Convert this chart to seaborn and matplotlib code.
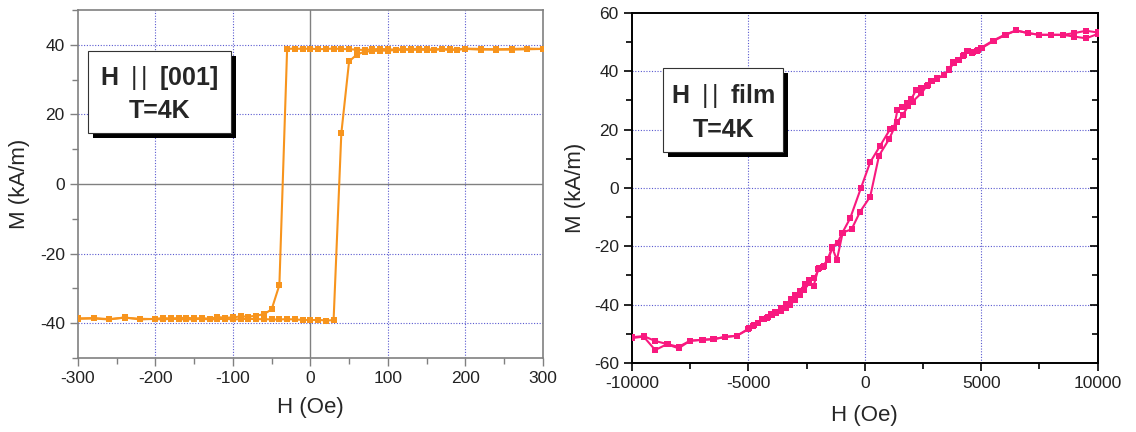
import numpy as np
import pandas as pd
import matplotlib
matplotlib.use("Agg")
import matplotlib.pyplot as plt
from matplotlib.patches import Rectangle
from matplotlib.ticker import MultipleLocator
import seaborn as sns

# left panel: H || [001], T=4K  (H in Oe, M in kA/m)
left_h_down = [300, 280, 260, 240, 220, 200, 190, 180, 170, 160, 150, 140, 130, 120, 110,
               100, 90, 80, 70, 60, 50, 40, 30, 20, 10, 0, -10, -20, -30,
               -40, -50, -60, -70, -80, -90, -100, -110, -120, -130, -140, -150, -160,
               -170, -180, -190, -200, -220, -240, -260, -280, -300]
left_m_down = [38.8, 38.9, 38.8, 38.7, 38.8, 38.9, 38.6, 38.7, 38.8, 38.6, 38.7, 38.9, 38.7,
               38.8, 38.6, 38.7, 38.8, 38.7, 38.5, 38.6, 38.7, 38.8, 38.9, 38.8, 38.7, 38.9,
               38.8, 38.9, 38.8,
               -29.0, -36.0, -37.4, -37.8, -38.1, -38.0, -38.3, -38.4, -38.2, -38.7, -38.5,
               -38.6, -38.4, -38.5, -38.6, -38.5, -38.7, -38.9, -38.3, -38.9, -38.6, -38.7]
left_h_up = [-300, -280, -260, -240, -220, -200, -190, -180, -170, -160, -150, -140, -130,
             -120, -110, -100, -90, -80, -70, -60, -50, -40, -30, -20, -10, 0, 10, 20, 30,
             40, 50, 60, 70, 80, 90, 100, 110, 120, 130, 140, 150, 160, 170, 180, 190, 200,
             220, 240, 260, 280, 300]
left_m_up = [-38.6, -38.5, -38.8, -38.4, -38.7, -38.8, -38.9, -38.7, -38.8, -38.9, -38.8,
             -38.7, -38.9, -38.8, -38.7, -38.9, -38.8, -38.7, -38.8, -38.8, -38.9, -38.9,
             -38.8, -38.9, -39.0, -39.1, -39.0, -39.2, -39.1,
             14.6, 35.2, 37.2, 38.0, 38.2, 38.3, 38.3, 38.5, 38.6, 38.5, 38.6, 38.5, 38.6,
             38.7, 38.5, 38.6, 38.8, 38.6, 38.6, 38.6, 38.7, 38.8]

# right panel: H || film, T=4K
right_h_down = [10000, 9500, 9000, 8500, 8000, 7500, 7000, 6500, 6000, 5500,
                5000, 4800, 4600, 4400, 4200, 4000, 3800, 3600, 3400, 3100,
                2900, 2700, 2400, 2200, 2000, 1800, 1600, 1400, 1250, 1090,
                660, 230, -170, -630, -960, -1170, -1390, -1570, -1770, -1960,
                -2170, -2390, -2560, -2780, -2990, -3170, -3390, -3600, -3860, -4030,
                -4170, -4350, -4580, -4780, -4960, -5490, -5990, -6490, -6960, -7500,
                -8000, -8460, -9000, -9500, -10000]
right_m_down = [53.3, 53.9, 53.1, 52.5, 52.5, 52.5, 53.1, 54.0, 52.5, 50.5,
                48.1, 47.1, 46.4, 46.8, 45.4, 43.9, 43.1, 40.7, 38.8, 37.6,
                36.8, 35.3, 34.2, 33.6, 30.5, 29.0, 27.9, 26.8, 20.5, 20.2,
                14.5, 8.8, -0.1, -10.4, -15.3, -18.8, -20.1, -24.7, -26.8, -27.5,
                -31.0, -31.6, -32.9, -35.2, -36.7, -38.2, -39.9, -41.3, -42.6, -43.3,
                -44.1, -44.9, -46.2, -47.0, -48.1, -50.7, -51.0, -51.9, -52.1, -52.4,
                -54.5, -53.6, -52.5, -50.8, -51.2]
right_h_up = [-10000, -9500, -9000, -8500, -8000, -7500, -7000, -6500, -6000, -5500,
              -5000, -4800, -4600, -4400, -4200, -4000, -3800, -3600, -3400, -3200,
              -3000, -2800, -2600, -2400, -2200, -2000, -1800, -1600, -1400, -1200,
              -950, -570, -200, 230, 610, 1040, 1260, 1400, 1620, 1870,
              2050, 2430, 2660, 2860, 3100, 3400, 3600, 3850, 4050, 4250,
              4450, 4650, 4850, 5050, 5550, 6050, 6500, 7000, 7500, 8000,
              8500, 9000, 9500, 10000]
right_m_up = [-51.5, -51.0, -55.6, -53.6, -55.0, -52.4, -52.1, -51.8, -51.2, -50.7,
              -48.5, -47.3, -46.4, -45.0, -44.5, -43.6, -42.8, -42.1, -41.3, -40.1,
              -38.4, -36.7, -35.0, -32.7, -33.6, -27.8, -27.0, -24.5, -20.5, -24.7,
              -15.3, -14.2, -8.1, -3.0, 11.1, 16.7, 20.5, 22.7, 25.0, 28.1,
              29.6, 32.5, 35.0, 36.5, 37.5, 38.6, 40.5, 43.0, 44.0, 45.5,
              46.8, 46.5, 47.2, 48.1, 50.5, 52.5, 54.0, 53.1, 52.5, 52.5,
              52.5, 51.9, 51.3, 52.8]

left_label = [r"$\mathbf{H}\ \,|\,|\ \,\mathbf{[001]}$", "T=4K"]
right_label = [r"$\mathbf{H}\ \,|\,|\ \,\mathbf{film}$", "T=4K"]


def loop_frame(h_down, m_down, h_up, m_up):
    down = pd.DataFrame({"H": h_down, "M": m_down, "branch": "down"})
    up = pd.DataFrame({"H": h_up, "M": m_up, "branch": "up"})
    return pd.concat([down, up], ignore_index=True)


def label_box(ax, x0, y0, x1, y1, dx, dy, lines, line_y):
    ax.add_patch(Rectangle((x0 + dx, y0 - dy), x1 - x0, y1 - y0, transform=ax.transAxes,
                           facecolor="black", edgecolor="none", zorder=5, clip_on=False))
    ax.add_patch(Rectangle((x0, y0), x1 - x0, y1 - y0, transform=ax.transAxes,
                           facecolor="white", edgecolor="#333333", linewidth=0.8,
                           zorder=6, clip_on=False))
    cx = (x0 + x1) / 2
    for txt, ty in zip(lines, line_y):
        ax.text(cx, ty, txt, transform=ax.transAxes, ha="center", va="baseline",
                fontsize=18, fontweight="bold", zorder=7)


sns.set_style("ticks")
plt.rcParams["font.family"] = ["Liberation Sans", "DejaVu Sans"]
plt.rcParams["axes.unicode_minus"] = False
plt.rcParams["mathtext.fontset"] = "custom"
plt.rcParams["mathtext.rm"] = "Liberation Sans"
plt.rcParams["mathtext.bf"] = "Liberation Sans:bold"

grid_kw = dict(color="#5a5ad0", linestyle=(0, (1, 1.5)), linewidth=0.8, zorder=0)

fig = plt.figure(figsize=(11.36, 4.32), dpi=100)
ax1 = fig.add_axes([0.0687, 0.171, 0.409, 0.806])
ax2 = fig.add_axes([0.5563, 0.160, 0.410, 0.810])

# left panel
df1 = loop_frame(left_h_down, left_m_down, left_h_up, left_m_up)
sns.lineplot(data=df1, x="H", y="M", units="branch", estimator=None, sort=False,
             color="#f7941d", marker="s", markersize=4.5, markeredgewidth=0,
             linewidth=1.5, legend=False, ax=ax1, zorder=3)
ax1.set_xlim(-300, 300)
ax1.set_ylim(-50, 50)
ax1.xaxis.set_major_locator(MultipleLocator(100))
ax1.xaxis.set_minor_locator(MultipleLocator(50))
ax1.set_yticks([-40, -20, 0, 20, 40])
ax1.yaxis.set_minor_locator(MultipleLocator(10))
for v in [-200, -100, 100, 200]:
    ax1.axvline(v, **grid_kw)
for v in [-40, -20, 20, 40]:
    ax1.axhline(v, **grid_kw)
ax1.axvline(0, color="#808080", linewidth=1.0, zorder=1)
ax1.axhline(0, color="#808080", linewidth=1.0, zorder=1)
for sp in ax1.spines.values():
    sp.set_color("#808080")
    sp.set_linewidth(1.2)
ax1.tick_params(which="both", direction="out", color="#808080", labelsize=12.5,
                labelcolor="#222222")
ax1.tick_params(which="major", length=6, width=1.0)
ax1.tick_params(which="minor", length=4, width=1.0)
ax1.set_xlabel("H (Oe)", fontsize=16)
ax1.set_ylabel("M (kA/m)", fontsize=16)
ax1.xaxis.set_label_coords(0.5, -0.113)
ax1.yaxis.set_label_coords(-0.103, 0.5)
label_box(ax1, 0.0215, 0.647, 0.329, 0.882, 0.011, 0.0144, left_label, [0.784, 0.690])

# right panel
df2 = loop_frame(right_h_down, right_m_down, right_h_up, right_m_up)
sns.lineplot(data=df2, x="H", y="M", units="branch", estimator=None, sort=False,
             color="#f8197f", marker="s", markersize=4.5, markeredgewidth=0,
             linewidth=1.5, legend=False, ax=ax2, zorder=3)
ax2.set_xlim(-10000, 10000)
ax2.set_ylim(-60, 60)
ax2.xaxis.set_major_locator(MultipleLocator(5000))
ax2.xaxis.set_minor_locator(MultipleLocator(2500))
ax2.yaxis.set_major_locator(MultipleLocator(20))
ax2.yaxis.set_minor_locator(MultipleLocator(10))
for v in [-5000, 0, 5000]:
    ax2.axvline(v, **grid_kw)
for v in [-40, -20, 0, 20, 40]:
    ax2.axhline(v, **grid_kw)
for sp in ax2.spines.values():
    sp.set_color("black")
    sp.set_linewidth(1.4)
ax2.tick_params(which="both", direction="out", color="black", labelsize=12.5,
                labelcolor="#222222")
ax2.tick_params(which="major", length=6, width=1.2)
ax2.tick_params(which="minor", length=4, width=1.2)
# inward ticks on the right-hand frame
sec = ax2.secondary_yaxis("right")
sec.yaxis.set_major_locator(MultipleLocator(20))
sec.yaxis.set_minor_locator(MultipleLocator(10))
sec.tick_params(which="both", direction="in", labelright=False, color="black", width=1.2)
sec.tick_params(which="major", length=6)
sec.tick_params(which="minor", length=4)
sec.spines["right"].set_linewidth(1.4)
ax2.set_xlabel("H (Oe)", fontsize=16)
ax2.set_ylabel("M (kA/m)", fontsize=16)
ax2.xaxis.set_label_coords(0.5, -0.12)
ax2.yaxis.set_label_coords(-0.099, 0.5)
label_box(ax2, 0.067, 0.604, 0.325, 0.842, 0.011, 0.0143, right_label, [0.743, 0.646])

fig.savefig("out.png", dpi=100)
plt.close(fig)
